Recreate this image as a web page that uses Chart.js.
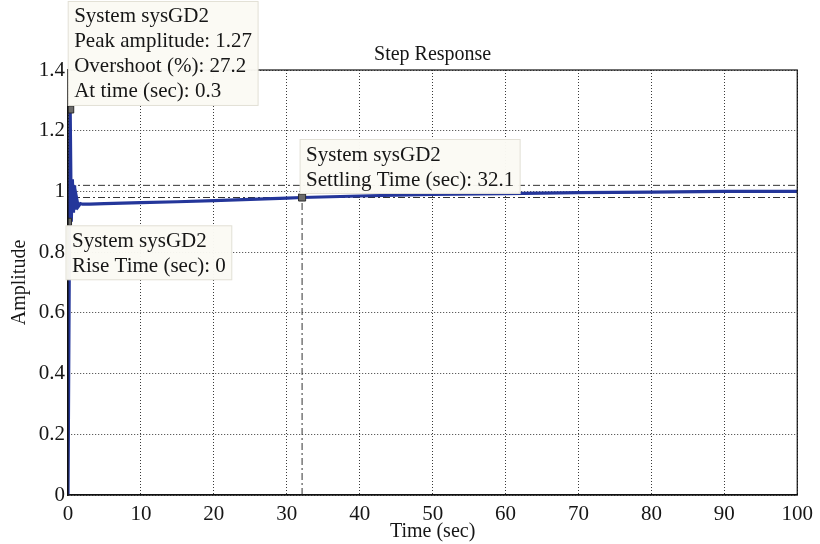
<!DOCTYPE html>
<html>
<head>
<meta charset="utf-8">
<script src="https://cdn.jsdelivr.net/npm/chart.js@4/dist/chart.umd.min.js"></script>
<style>
  html, body { margin: 0; padding: 0; background: #ffffff; }
  #wrap { width: 820px; height: 544px; }
</style>
</head>
<body>
<div id="wrap"><canvas id="myChart" width="820" height="544"></canvas></div>
<script>
// step response of sysGD2
const timeSec = [0, 0.3, 0.45, 0.6, 0.75, 0.9, 1.05, 1.2, 1.4, 1.7, 2, 3, 5, 10, 15, 20, 25, 30, 32.1, 40, 50, 60, 70, 80, 90, 100];
const amplitude = [0, 1.27, 0.9, 1.04, 0.93, 1.02, 0.94, 0.975, 0.95, 0.96, 0.958, 0.958, 0.96, 0.963, 0.966, 0.97, 0.974, 0.978, 0.98, 0.985, 0.99, 0.993, 0.996, 0.998, 1.0, 1.0];

// characteristic points (peak, rise, settling)
const markerT = [0.3, 0, 32.1];
const markerY = [1.27, 0.9, 0.98];

// settling band and settling time guide
const bandUpper = 1.02;
const bandLower = 0.98;
const settleTime = 32.1;

const xTicks = [0, 10, 20, 30, 40, 50, 60, 70, 80, 90, 100];
const yTicks = [0, 0.2, 0.4, 0.6, 0.8, 1, 1.2, 1.4];

const titleText = "Step Response";
const peakText = ["System sysGD2", "Peak amplitude: 1.27", "Overshoot (%): 27.2", "At time (sec): 0.3"];
const riseText = ["System sysGD2", "Rise Time (sec): 0"];
const settleText = ["System sysGD2", "Settling Time (sec): 32.1"];

const FONT = "'Liberation Serif', 'DejaVu Serif', serif";
const INK = "#161616";

function xy(xs, ys) {
	return xs.map((x, i) => ({ x: x, y: ys[i] }));
}

// draws the title over the axes, the box round them and the datatips
const tipsPlugin = {
	id: "tips",
	afterDatasetsDraw(chart) {
		const ctx = chart.ctx;
		const a = chart.chartArea;
		const xs = chart.scales.x, ys = chart.scales.y;
		ctx.save();
		ctx.strokeStyle = "#111";
		ctx.lineWidth = 1.2;
		ctx.strokeRect(a.left, a.top, a.right - a.left, a.bottom - a.top);

		ctx.fillStyle = INK;
		ctx.font = "20px " + FONT;
		ctx.textAlign = "center";
		ctx.textBaseline = "middle";
		ctx.fillText(titleText, (a.left + a.right) / 2, a.top - 15);
		ctx.textAlign = "left";

		ctx.font = "21px " + FONT;
		const lh = 25;
		function box(lines, px, py, below) {
			let w = 0;
			lines.forEach(l => { w = Math.max(w, ctx.measureText(l).width); });
			w += 12;
			const h = lines.length * lh + 4;
			const left = px - 2;
			const top = below ? py + 4 : py - 4 - h;
			ctx.fillStyle = "rgba(251,250,244,0.97)";
			ctx.fillRect(left, top, w, h);
			ctx.strokeStyle = "#e2e0d6";
			ctx.lineWidth = 1;
			ctx.strokeRect(left, top, w, h);
			ctx.fillStyle = INK;
			ctx.textBaseline = "middle";
			lines.forEach((l, i) => {
				ctx.fillText(l, left + 6, top + 3 + lh * (i + 0.5));
			});
		}
		box(peakText, xs.getPixelForValue(markerT[0]), ys.getPixelForValue(markerY[0]), false);
		box(riseText, xs.getPixelForValue(markerT[1]), ys.getPixelForValue(markerY[1]), true);
		box(settleText, xs.getPixelForValue(markerT[2]), ys.getPixelForValue(markerY[2]), false);
		ctx.restore();
	}
};

const dashDot = [7, 3, 2, 3];

const ctx = document.getElementById("myChart").getContext("2d");
const myChart = new Chart(ctx, {
	type: "line",
	data: {
		datasets: [
			{
				label: "markers",
				data: xy(markerT, markerY),
				showLine: false,
				pointStyle: "rect",
				pointRadius: 5,
				backgroundColor: "#6b6b6b",
				borderColor: "#2b2b2b",
				borderWidth: 1,
				order: 0,
			},
			{
				label: "sysGD2",
				data: xy(timeSec, amplitude),
				borderColor: "#24369a",
				borderWidth: 3.2,
				pointRadius: 0,
				tension: 0,
				order: 1,
			},
			{
				label: "upper",
				data: xy([0, 100], [bandUpper, bandUpper]),
				borderColor: "#333",
				borderWidth: 1,
				borderDash: dashDot,
				pointRadius: 0,
				order: 2,
			},
			{
				label: "lower",
				data: xy([0, 100], [bandLower, bandLower]),
				borderColor: "#333",
				borderWidth: 1,
				borderDash: dashDot,
				pointRadius: 0,
				order: 2,
			},
			{
				label: "settle",
				data: xy([settleTime, settleTime], [0, bandLower]),
				borderColor: "#333",
				borderWidth: 1,
				borderDash: dashDot,
				pointRadius: 0,
				order: 2,
			},
		],
	},
	options: {
		responsive: false,
		animation: false,
		layout: { padding: { left: 0, right: 22, top: 70, bottom: 0 } },
		plugins: {
			legend: { display: false },
			tooltip: { enabled: false },
			title: { display: false },
		},
		scales: {
			x: {
				type: "linear",
				min: 0,
				max: 100,
				afterBuildTicks: s => { s.ticks = xTicks.map(v => ({ value: v })); },
				afterFit: s => { s.height = 49; },
				ticks: { color: INK, font: { family: FONT, size: 21 }, padding: 7, maxRotation: 0, callback: v => String(v) },
				grid: { color: "#3a3a3a", lineWidth: 1, drawTicks: false },
				border: { color: "#111", width: 1.2, dash: [1, 2] },
				title: {
					display: true,
					text: "Time (sec)",
					color: INK,
					font: { family: FONT, size: 20 },
					padding: { top: 0, bottom: 0 },
				},
			},
			y: {
				type: "linear",
				min: 0,
				max: 1.4,
				afterBuildTicks: s => { s.ticks = yTicks.map(v => ({ value: v })); },
				afterFit: s => { s.width = 68; },
				ticks: { color: INK, font: { family: FONT, size: 21 }, padding: 3, callback: v => String(v) },
				grid: { color: "#3a3a3a", lineWidth: 1, drawTicks: false },
				border: { color: "#111", width: 1.2, dash: [1, 2] },
				title: {
					display: true,
					text: "Amplitude",
					color: INK,
					font: { family: FONT, size: 20 },
					padding: { top: 8, bottom: 0 },
				},
			},
		},
	},
	plugins: [tipsPlugin],
});
</script>
</body>
</html>
